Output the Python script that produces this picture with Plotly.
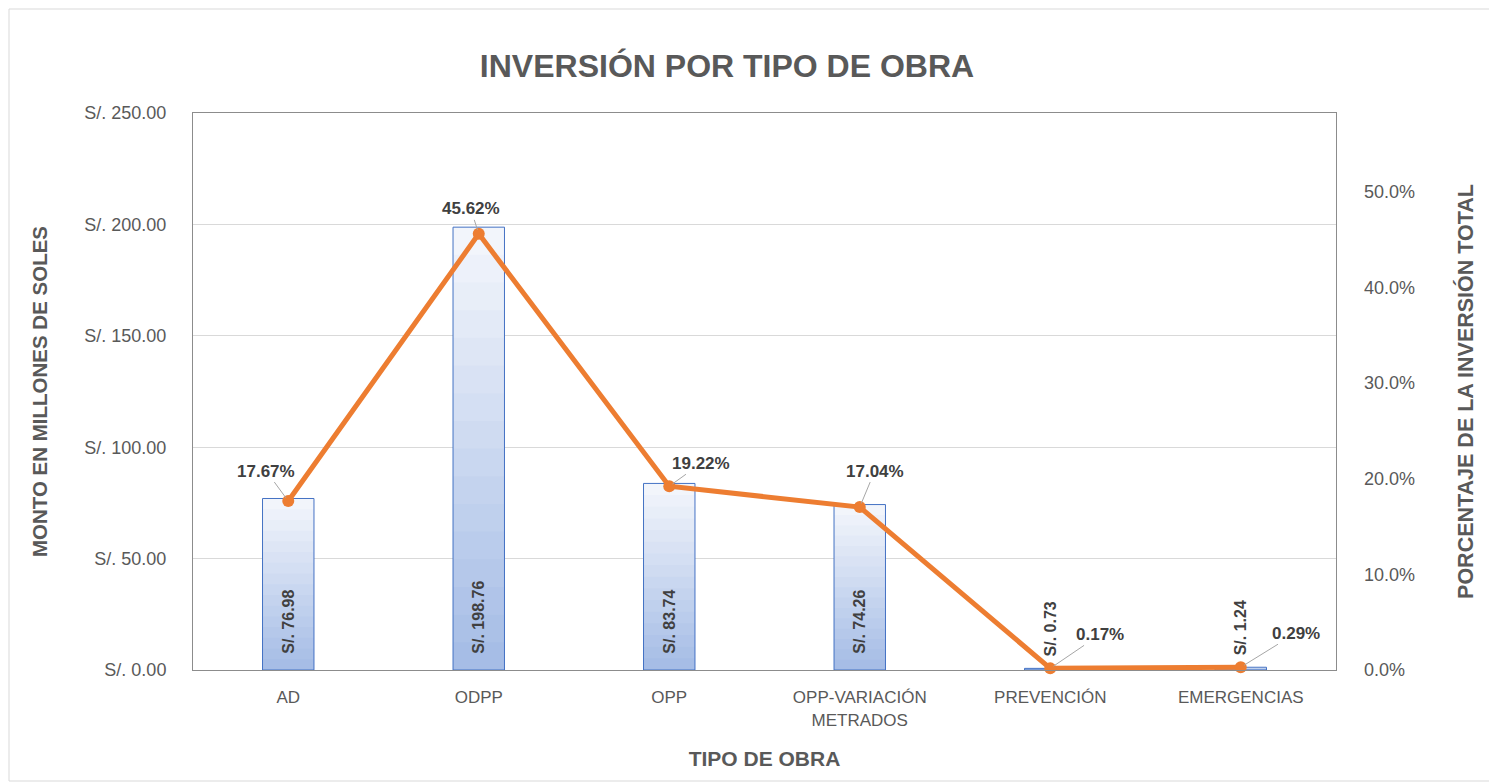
import plotly.graph_objects as go

categories = ["AD", "ODPP", "OPP", "OPP-VARIACIÓN<br>METRADOS", "PREVENCIÓN", "EMERGENCIAS"]
montos = [76.98, 198.76, 83.74, 74.26, 0.73, 1.24]
porcentajes = [17.67, 45.62, 19.22, 17.04, 0.17, 0.29]
monto_labels = ["S/. 76.98", "S/. 198.76", "S/. 83.74", "S/. 74.26", "S/. 0.73", "S/. 1.24"]
pct_labels = ["17.67%", "45.62%", "19.22%", "17.04%", "0.17%", "0.29%"]
left_ticks = [0, 50, 100, 150, 200, 250]
left_ticktext = ["S/. 0.00", "S/. 50.00", "S/. 100.00", "S/. 150.00", "S/. 200.00", "S/. 250.00"]
right_ticks = [0, 0.1, 0.2, 0.3, 0.4, 0.5]

GREY = "#595959"
DARK = "#404040"
SANS = "Liberation Sans, Arial"

W, H = 1489, 775
L, R, T, B = 185, 161, 105, 113
PW, PH = W - L - R, H - T - B

fig = go.Figure()

# gradient bars made of overlaid layers (light top, darker bottom)
N = 16
light = (242, 245, 251)
dark = (166, 189, 230)
for k in range(N):
    t = k / (N - 1)
    col = tuple(round(light[i] + (dark[i] - light[i]) * t) for i in range(3))
    frac = (N - k) / N
    fig.add_trace(go.Bar(
        x=categories, y=[v * frac for v in montos], width=0.27,
        marker=dict(color="rgb(%d,%d,%d)" % col, line=dict(width=0)),
        hoverinfo="skip", showlegend=False, yaxis="y"))

positions = ["inside" if v > 20 else "outside" for v in montos]
bar_text = ["&nbsp;&nbsp;&nbsp;<b>%s</b>" % s if v > 20 else "&nbsp;&nbsp;<b>%s</b>" % s
            for s, v in zip(monto_labels, montos)]
fig.add_trace(go.Bar(
    x=categories, y=montos, width=0.27,
    marker=dict(color="rgba(0,0,0,0)", line=dict(color="#4472C4", width=1)),
    text=bar_text, textposition=positions, insidetextanchor="start",
    textangle=-90, constraintext="none", cliponaxis=False,
    textfont=dict(family=SANS, size=16, color=DARK),
    showlegend=False, yaxis="y", name="Monto"))

fig.add_trace(go.Scatter(
    x=categories, y=[p / 100 for p in porcentajes], mode="lines+markers",
    line=dict(color="#ED7D31", width=5), marker=dict(color="#ED7D31", size=12),
    yaxis="y2", showlegend=False, cliponaxis=False, name="Porcentaje"))

offsets = [(-22, -30), (-8, -25), (32, -23), (15, -36), (50, -34), (55, -34)]
for cat, p, lab, (ax, ay) in zip(categories, porcentajes, pct_labels, offsets):
    fig.add_annotation(
        x=cat, y=p / 100, xref="x", yref="y2", text="<b>%s</b>" % lab,
        showarrow=True, arrowhead=0, arrowwidth=1, arrowcolor="#A6A6A6",
        ax=ax, ay=ay, standoff=4,
        font=dict(family=SANS, size=17, color=DARK))

fig.update_layout(
    width=W, height=H,
    paper_bgcolor="white", plot_bgcolor="white",
    barmode="overlay",
    margin=dict(l=L, r=R, t=T, b=B),
    title=dict(text="<b>INVERSIÓN POR TIPO DE OBRA</b>", x=719 / W, xanchor="center",
               y=1 - 58 / H, yanchor="middle",
               font=dict(family=SANS, size=32, color=GREY)),
    xaxis=dict(
        showline=True, linecolor="#8C8C8C", linewidth=1, mirror=True,
        showgrid=False, ticks="", ticklabelstandoff=12,
        tickfont=dict(family=SANS, size=17, color=GREY),
        title=dict(text="<b>TIPO DE OBRA</b>", standoff=22,
                   font=dict(family=SANS, size=21, color=GREY))),
    yaxis=dict(
        range=[0, 250], tickvals=left_ticks, ticktext=left_ticktext,
        showline=True, linecolor="#8C8C8C", linewidth=1, mirror=True,
        showgrid=True, gridcolor="#D9D9D9", zeroline=False,
        ticks="", ticklabelstandoff=22,
        tickfont=dict(family=SANS, size=18, color=GREY),
        title=dict(text="<b>MONTO EN MILLONES DE SOLES</b>", standoff=31,
                   font=dict(family=SANS, size=20.5, color=GREY))),
    yaxis2=dict(
        overlaying="y", side="right", range=[0, 0.5826],
        tickvals=right_ticks, tickformat=".1%",
        showgrid=False, zeroline=False, showline=False,
        ticks="", ticklabelstandoff=27,
        tickfont=dict(family=SANS, size=18, color=GREY),
        title=dict(text="<b>PORCENTAJE DE LA INVERSIÓN TOTAL</b>", standoff=43,
                   font=dict(family=SANS, size=21.5, color=GREY))),
)

# outer chart border
fig.add_shape(type="rect", xref="paper", yref="paper",
              x0=-(L - 1) / PW, x1=1 + (R - 2) / PW,
              y0=-(B - 2) / PH, y1=1 + (T - 1) / PH,
              line=dict(color="#D9D9D9", width=1), layer="below")

fig.write_html("out.html")
